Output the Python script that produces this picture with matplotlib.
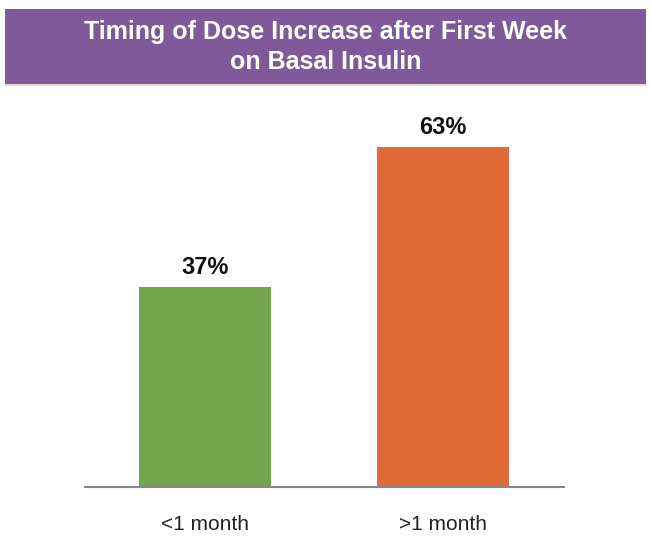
import matplotlib
matplotlib.use("Agg")
import matplotlib.pyplot as plt
from matplotlib.patches import Rectangle

categories = ["<1 month", ">1 month"]
values = [37, 63]
value_labels = ["37%", "63%"]
colors = ["#72A44D", "#E06A38"]
title = "Timing of Dose Increase after First Week\non Basal Insulin"

W, H = 651, 548
fig = plt.figure(figsize=(W / 100, H / 100), dpi=100)
fig.patch.set_facecolor("white")

# title banner
def px(x0, y0, x1, y1):
    return (x0 / W, 1 - y1 / H, (x1 - x0) / W, (y1 - y0) / H)

bx, by, bw, bh = px(5, 9, 646, 84)
fig.patches.append(Rectangle((bx, by - 0.004), bw, bh, transform=fig.transFigure,
                             facecolor="#dddddd", edgecolor="none", zorder=0))
fig.patches.append(Rectangle((bx, by), bw, bh, transform=fig.transFigure,
                             facecolor="#7E5A9B", edgecolor="none", zorder=1))
fig.text(0.5, 1 - 47 / H, title, ha="center", va="center", color="white",
         fontsize=18, fontweight="bold", linespacing=1.3,
         family=["Liberation Sans", "DejaVu Sans"])

ax = fig.add_axes([85 / W, (H - 487) / H, 479 / W, 378 / H])
x = list(range(len(categories)))
bars = ax.bar(x, values, width=0.555, color=colors, zorder=2)
ax.set_xlim(-0.504, 1.508)
ax.set_ylim(0, 70)
for rect, lab in zip(bars, value_labels):
    ax.text(rect.get_x() + rect.get_width() / 2, rect.get_height() + 1.5, lab,
            ha="center", va="bottom", fontsize=17, fontweight="bold",
            color="#111111", family="Liberation Sans")

for s in ["top", "right", "left"]:
    ax.spines[s].set_visible(False)
ax.spines["bottom"].set_color("#888888")
ax.spines["bottom"].set_linewidth(1.5)
ax.set_yticks([])
ax.set_xticks(x)
ax.set_xticklabels(categories, fontsize=15, color="#222222", family="Liberation Sans")
ax.tick_params(axis="x", length=0, pad=20)

fig.savefig("out.png", dpi=100, facecolor="white")
